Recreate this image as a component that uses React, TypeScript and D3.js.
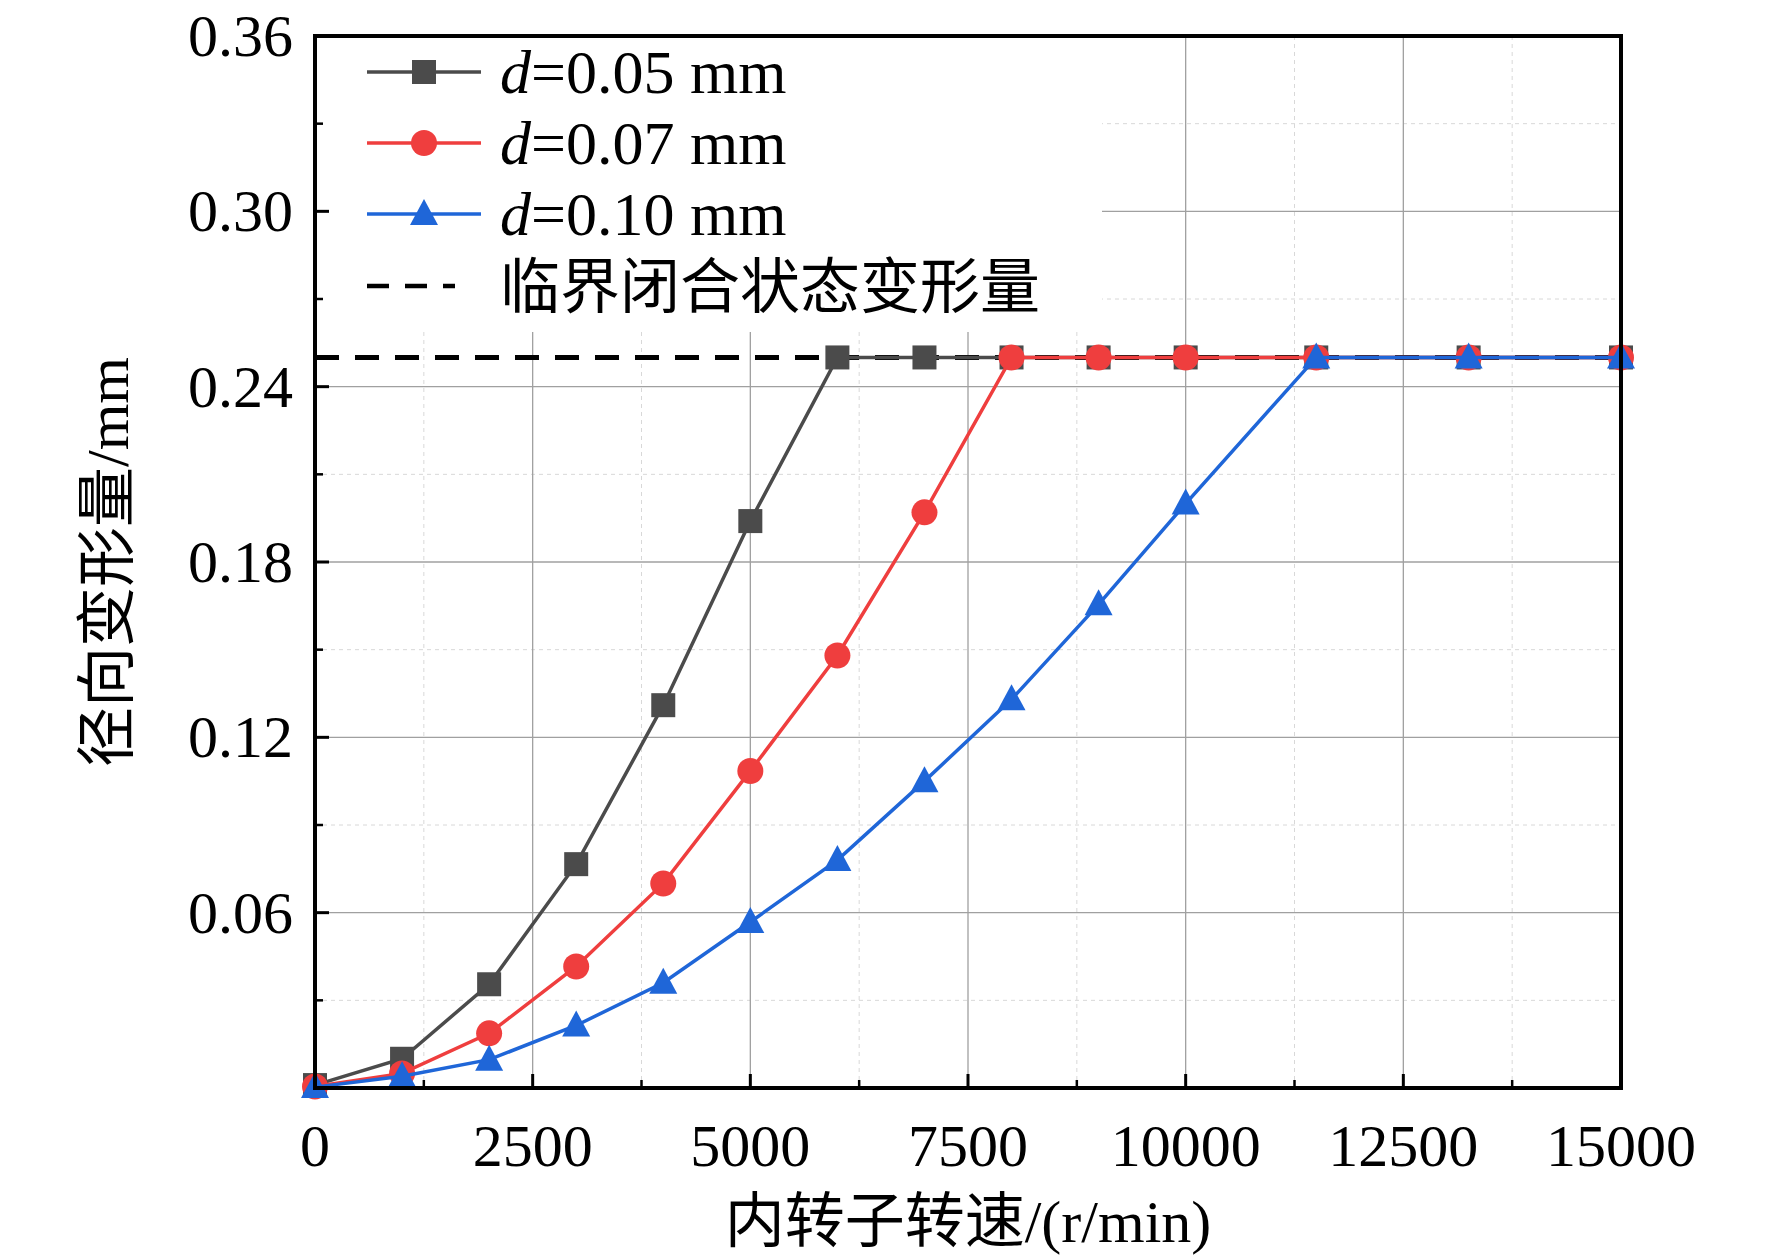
import React from "react";
import { scaleLinear, line } from "d3";

const speeds = [0, 1000, 2000, 3000, 4000, 5000, 6000, 7000, 8000, 9000, 10000, 11500, 13250, 15000];
const d005 = [0.001, 0.010, 0.0355, 0.0766, 0.131, 0.194, 0.25, 0.25, 0.25, 0.25, 0.25, 0.25, 0.25, 0.25];
const d007 = [0.0005, 0.005, 0.0187, 0.0416, 0.070, 0.1085, 0.148, 0.197, 0.25, 0.25, 0.25, 0.25, 0.25, 0.25];
const d010 = [0.0003, 0.004, 0.0097, 0.0214, 0.036, 0.0568, 0.078, 0.105, 0.133, 0.1655, 0.200, 0.25, 0.25, 0.25];
const criticalValue = 0.25;
const xTicks = [0, 2500, 5000, 7500, 10000, 12500, 15000];
const yTicks = [0.06, 0.12, 0.18, 0.24, 0.30, 0.36];

const series = [
  { label: "0.05 mm", values: d005, color: "#4b4b4b", marker: "square" },
  { label: "0.07 mm", values: d007, color: "#ef3e3e", marker: "circle" },
  { label: "0.10 mm", values: d010, color: "#1f66d8", marker: "triangle" },
];

const W = 1772, H = 1259;
const L = 315, R = 1621, T = 36, B = 1088;
const serif = "'Liberation Serif', 'Times New Roman', serif";
const cjk = "'Noto Sans CJK SC', sans-serif";

function Marker({ type, x, y, color }: { type: string; x: number; y: number; color: string }) {
  if (type === "square") return <rect x={x - 12} y={y - 12} width={24} height={24} fill={color} />;
  if (type === "circle") return <circle cx={x} cy={y} r={13} fill={color} />;
  return <path d={`M${x},${y - 15}L${x + 14},${y + 11}L${x - 14},${y + 11}Z`} fill={color} />;
}

export default function App() {
  const x = scaleLinear().domain([0, 15000]).range([L, R]);
  const y = scaleLinear().domain([0, 0.36]).range([B, T]);
  const minorX = [1250, 3750, 6250, 8750, 11250, 13750];
  const minorY = [0.03, 0.09, 0.15, 0.21, 0.27, 0.33];
  const lg = line<number>().x((_, i) => x(speeds[i])).y((v) => y(v));
  const legendRight = 1100, legendBottom = 330;
  return (
    <svg width={W} height={H} style={{ position: "absolute", left: 0, top: 0, background: "#fff" }}>
      {minorX.map((v) => (
        <line key={"mx" + v} x1={x(v)} x2={x(v)} y1={B} y2={T} stroke="#d8d8d8" strokeWidth={1} strokeDasharray="4,4" />
      ))}
      {minorY.map((v) => (
        <line key={"my" + v} x1={L} x2={R} y1={y(v)} y2={y(v)} stroke="#d8d8d8" strokeWidth={1} strokeDasharray="4,4" />
      ))}
      {xTicks.slice(1, -1).map((v) => (
        <line key={"gx" + v} x1={x(v)} x2={x(v)} y1={B} y2={T} stroke="#a0a0a0" strokeWidth={1.3} />
      ))}
      {yTicks.slice(0, -1).map((v) => (
        <line key={"gy" + v} x1={L} x2={R} y1={y(v)} y2={y(v)} stroke="#a0a0a0" strokeWidth={1.3} />
      ))}
      <rect x={L + 2} y={T + 2} width={legendRight - L} height={legendBottom - T} fill="#fff" />
      <line x1={L} x2={R} y1={y(criticalValue)} y2={y(criticalValue)} stroke="#000" strokeWidth={5} strokeDasharray="24,16" />
      {series.map((s) => (
        <g key={s.label}>
          <path d={lg(s.values) || ""} fill="none" stroke={s.color} strokeWidth={3.5} />
          {s.values.map((v, i) => (
            <Marker key={i} type={s.marker} x={x(speeds[i])} y={y(v)} color={s.color} />
          ))}
        </g>
      ))}
      {xTicks.map((v) => (
        <line key={"tx" + v} x1={x(v)} x2={x(v)} y1={B} y2={B - 14} stroke="#000" strokeWidth={3} />
      ))}
      {minorX.map((v) => (
        <line key={"tmx" + v} x1={x(v)} x2={x(v)} y1={B} y2={B - 8} stroke="#000" strokeWidth={2.5} />
      ))}
      {yTicks.map((v) => (
        <line key={"ty" + v} x1={L} x2={L + 14} y1={y(v)} y2={y(v)} stroke="#000" strokeWidth={3} />
      ))}
      {minorY.map((v) => (
        <line key={"tmy" + v} x1={L} x2={L + 8} y1={y(v)} y2={y(v)} stroke="#000" strokeWidth={2.5} />
      ))}
      <rect x={L} y={T} width={R - L} height={B - T} fill="none" stroke="#000" strokeWidth={4} />
      {xTicks.map((v) => (
        <text key={"lx" + v} x={x(v)} y={B + 78} textAnchor="middle" fontFamily={serif} fontSize={60}>{v}</text>
      ))}
      {yTicks.map((v) => (
        <text key={"ly" + v} x={L - 22} y={y(v) + 20} textAnchor="end" fontFamily={serif} fontSize={60}>{v.toFixed(2)}</text>
      ))}
      <text x={968} y={1242} textAnchor="middle" fontFamily={cjk} fontSize={60}>
        内转子转速<tspan fontFamily={serif}>/(r/min)</tspan>
      </text>
      <text transform={`translate(128,${(T + B) / 2}) rotate(-90)`} textAnchor="middle" fontFamily={cjk} fontSize={60}>
        径向变形量<tspan fontFamily={serif}>/mm</tspan>
      </text>
      {series.map((s, i) => {
        const ly = 72 + i * 71;
        return (
          <g key={"lg" + s.label}>
            <line x1={367} x2={481} y1={ly} y2={ly} stroke={s.color} strokeWidth={3.5} />
            <Marker type={s.marker} x={424} y={ly} color={s.color} />
            <text x={500} y={ly + 21} fontFamily={serif} fontSize={62}>
              <tspan fontStyle="italic">d</tspan>=0.{s.label.slice(2)}
            </text>
          </g>
        );
      })}
      <line x1={367} x2={455} y1={286} y2={286} stroke="#000" strokeWidth={4.5} strokeDasharray="22,16" />
      <text x={500} y={308} fontFamily={cjk} fontSize={60}>临界闭合状态变形量</text>
    </svg>
  );
}
